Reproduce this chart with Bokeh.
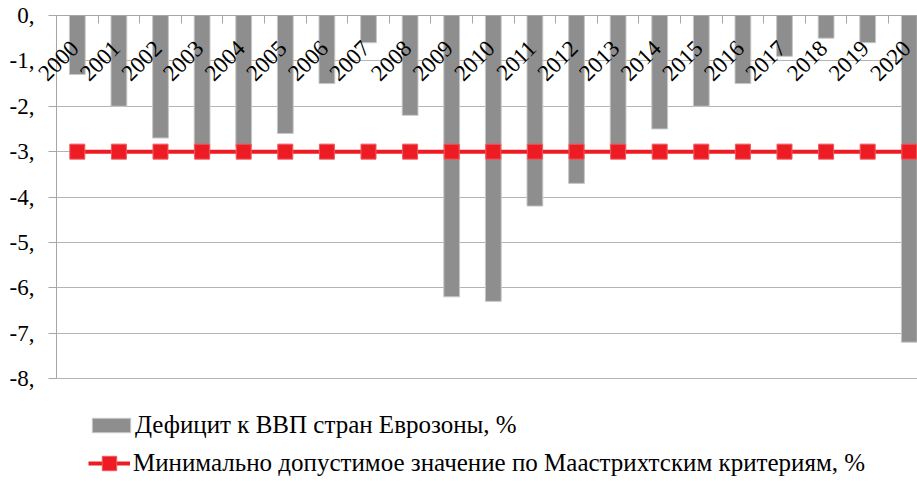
import math
from bokeh.plotting import figure
from bokeh.models import (Range1d, LinearAxis, FixedTicker, Legend, LegendItem,
                          ColumnDataSource, LabelSet, Grid)
from bokeh.core.properties import value
from bokeh.embed import file_html
from bokeh.resources import INLINE

years = ["2000", "2001", "2002", "2003", "2004", "2005", "2006", "2007", "2008", "2009",
         "2010", "2011", "2012", "2013", "2014", "2015", "2016", "2017", "2018", "2019", "2020"]
deficit = [-1.3, -2.0, -2.7, -3.1, -2.9, -2.6, -1.5, -0.6, -2.2, -6.2,
           -6.3, -4.2, -3.7, -3.0, -2.5, -2.0, -1.5, -0.9, -0.5, -0.6, -7.2]
limit = [-3.0] * len(years)
ytick_values = [-8, -7, -6, -5, -4, -3, -2, -1, 0]
ytick_labels = ["-8,", "-7,", "-6,", "-5,", "-4,", "-3,", "-2,", "-1,", "0,"]
label_bar = "Дефицит к ВВП стран Еврозоны, %"
label_line = "Минимально допустимое значение по Маастрихтским критериям, %"

FONT = "Liberation Serif"
GRAY = "#8e8e8e"
RED = "#ed1c24"
AXIS = "#a6a6a6"

n = len(years)
src = ColumnDataSource(dict(
    x=[i + 0.5 for i in range(n)],
    year=years,
    deficit=deficit,
    limit=limit,
    zero=[0.0] * n,
))

# 1 category = 41.6 px, 1 unit = 45.375 px; plot area starts at (56, 15) px
X0, X1 = -56 / 41.6, 861 / 41.6
Y0, Y1 = -466 / 45.375, 15 / 45.375
p = figure(width=917, height=481,
           x_range=Range1d(X0, X1), y_range=Range1d(Y0, Y1),
           output_backend="svg", toolbar_location=None,
           x_axis_location=None, y_axis_location=None,
           min_border_left=0, min_border_right=0,
           min_border_top=0, min_border_bottom=0)
p.outline_line_color = None
p.background_fill_color = "white"
p.border_fill_color = "white"
for g in p.grid:
    g.visible = False

# top category axis at value 0: tick marks at category boundaries, pointing inward
top = LinearAxis(fixed_location=0,
                 ticker=FixedTicker(ticks=[], minor_ticks=list(range(n + 1))),
                 bounds=(0, X1),
                 minor_tick_in=8, minor_tick_out=0, major_tick_line_color=None,
                 minor_tick_line_color=AXIS, axis_line_color=AXIS,
                 major_label_standoff=0)
p.add_layout(top, "above")

# y axis at the start of the category area
ya = LinearAxis(fixed_location=0,
                ticker=FixedTicker(ticks=ytick_values),
                bounds=(min(ytick_values), max(ytick_values)),
                major_label_overrides={v: s for v, s in zip(ytick_values, ytick_labels)},
                major_tick_out=8, major_tick_in=0,
                minor_tick_line_color=None,
                major_tick_line_color=AXIS, axis_line_color=AXIS,
                major_label_standoff=14,
                major_label_text_font=FONT, major_label_text_font_size="23px",
                major_label_text_color="black")
p.add_layout(ya, "left")

grid = Grid(dimension=1, ticker=FixedTicker(ticks=ytick_values[:-1]),
            grid_line_color="#b4b4b4", grid_line_width=1, cross_bounds=(0, X1))
p.add_layout(grid)

bars = p.vbar(x="x", top="zero", bottom="deficit", width=0.38, source=src,
              fill_color=GRAY, line_color="#c8c8c8", line_width=1)

years_lbl = LabelSet(x="x", y="zero", text="year", source=src, angle=math.pi / 4,
                     text_align="right", text_baseline="middle",
                     x_offset=-2.5, y_offset=-29,
                     text_font=value(FONT), text_font_size="23px",
                     text_color="black")
p.add_layout(years_lbl)

line = p.line(x="x", y="limit", source=src, line_color=RED, line_width=4)
marks = p.scatter(x="x", y="limit", source=src, marker="square", size=15,
                  fill_color=RED, line_color="#f05a5f", line_width=1)

leg1 = Legend(items=[LegendItem(label=label_bar, renderers=[bars])],
              location=(87, 42), glyph_width=48, glyph_height=18,
              label_standoff=0, padding=0, margin=0, spacing=0,
              border_line_color=None, background_fill_alpha=0,
              label_text_font=FONT, label_text_font_size="25px",
              label_text_color="black")
leg2 = Legend(items=[LegendItem(label=label_line, renderers=[line, marks])],
              location=(88, 0), glyph_width=42, glyph_height=36,
              label_standoff=3, padding=0, margin=0, spacing=0,
              border_line_color=None, background_fill_alpha=0,
              label_text_font=FONT, label_text_font_size="25px",
              label_text_color="black")
p.add_layout(leg1)
p.add_layout(leg2)

open("out.html", "w").write(file_html(p, INLINE))
